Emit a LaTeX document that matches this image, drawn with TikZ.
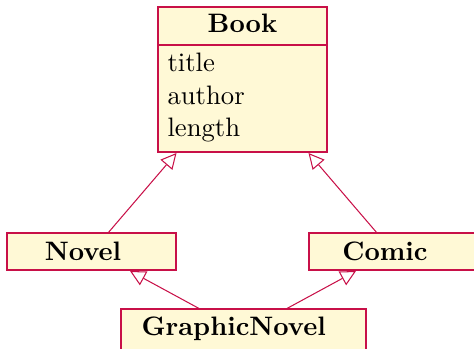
\documentclass[tikz,border=0pt]{standalone}
\usetikzlibrary{arrows.meta}
\definecolor{umlborder}{RGB}{200,16,72}
\definecolor{umlfill}{RGB}{255,249,214}
\tikzset{
  classbox/.style={draw=umlborder, fill=umlfill, line width=0.6pt},
  classname/.style={font=\fontsize{10.3}{12.4}\selectfont\bfseries, inner sep=0pt, anchor=base},
  attr/.style={font=\fontsize{10.3}{12.4}\selectfont, inner sep=0pt, anchor=base west},
  inherit/.style={draw=umlborder, line width=0.4pt,
    -{Triangle[open, length=6pt, width=6pt, fill=white]}},
}
\begin{document}
\begin{tikzpicture}[x=0.386pt, y=-0.386pt]
  \useasboundingbox (0,0) rectangle (474,349);

  % Book class with its attribute compartment
  \path[classbox] (158,7) rectangle (327,152);
  \draw[umlborder, line width=0.6pt] (158,45) -- (327,45);
  \node[classname] (book) at (242.5,33) {Book};
  \node[attr] (a1) at (167,72) {title};
  \node[attr] (a2) at (167,104) {author};
  \node[attr] (a3) at (167,136) {length};
  \coordinate (bookL) at (176.5,153);
  \coordinate (bookR) at (308.5,153);

  % Subclasses
  \path[classbox] (7,233) rectangle (176,270);
  \node[classname] (novel) at (83,260.5) {Novel};
  \coordinate (novelT) at (108,233);
  \coordinate (novelB) at (130,271);

  \path[classbox] (309,233) rectangle (480,270);
  \node[classname] (comic) at (385,260.5) {Comic};
  \coordinate (comicT) at (377,233);
  \coordinate (comicB) at (356,271);

  \path[classbox] (121,309) rectangle (366,360);
  \node[classname] (gnovel) at (233.7,335) {GraphicNovel};
  \coordinate (gnL) at (200,309);
  \coordinate (gnR) at (286,309);

  % Generalisation arrows
  \draw[inherit] (novelT) -- (bookL);
  \draw[inherit] (comicT) -- (bookR);
  \draw[inherit] (gnL) -- (novelB);
  \draw[inherit] (gnR) -- (comicB);
\end{tikzpicture}
\end{document}
